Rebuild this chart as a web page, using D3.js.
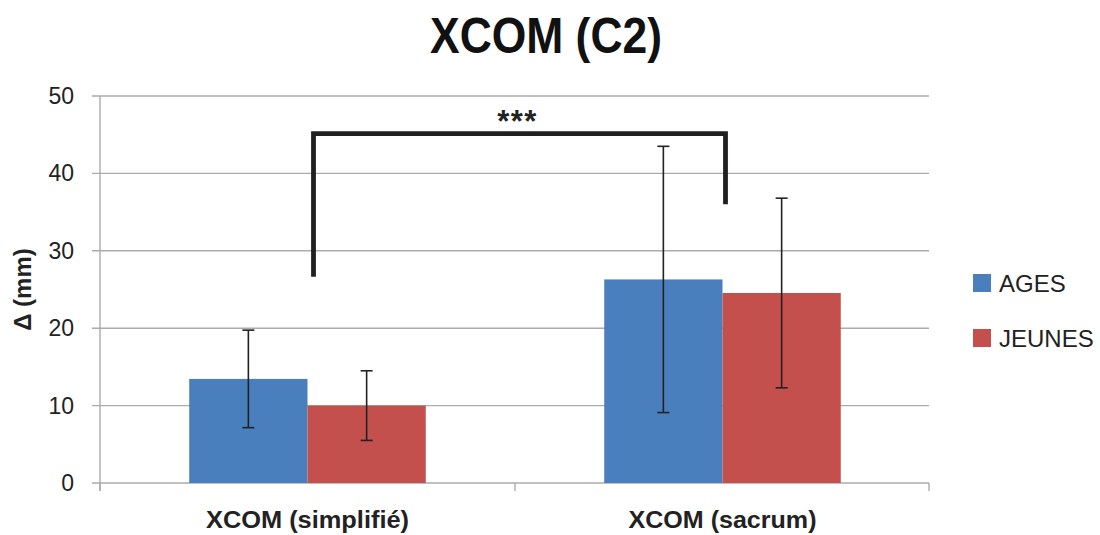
<!DOCTYPE html>
<html>
<head>
<meta charset="utf-8">
<script src="https://cdn.jsdelivr.net/npm/d3@7.9.0/dist/d3.min.js"></script>
<style>
  body { margin: 0; background: #fff; }
  svg { display: block; }
</style>
</head>
<body>
<div id="chart"></div>
<script>
// data
const categories = ["XCOM (simplifié)", "XCOM (sacrum)"];
const seriesNames = ["AGES", "JEUNES"];
const colors = ["#4A7FBD", "#C4504E"];
const means = [[13.45, 10.0], [26.3, 24.55]];   // [category][series]
const errors = [[6.3, 4.5], [17.2, 12.25]];
const yTicks = [0, 10, 20, 30, 40, 50];
// significance bracket: left foot, top, right foot
const bracket = { left: 26.65, top: 45.15, right: 36.0, label: "***" };

const W = 1100, H = 535;
const margin = { top: 96, right: 170, bottom: 52, left: 100 };

const svg = d3.select("#chart").append("svg")
  .attr("width", W).attr("height", H);

const x0 = d3.scaleBand()
  .domain(categories)
  .range([margin.left, W - margin.right])
  .paddingInner(0.43)
  .paddingOuter(0.215);

const x1 = d3.scaleBand()
  .domain(seriesNames)
  .range([0, x0.bandwidth()]);

const y = d3.scaleLinear()
  .domain([0, 50])
  .range([H - margin.bottom, margin.top]);

const font = "'Liberation Sans', Arial, sans-serif";
const grid = "#ababab";

// gridlines
svg.append("g")
  .selectAll("line")
  .data(yTicks)
  .join("line")
  .attr("x1", margin.left - 8)
  .attr("x2", W - margin.right - 1)
  .attr("y1", d => y(d)).attr("y2", d => y(d))
  .attr("stroke", grid).attr("stroke-width", 1.4);

// y axis line
svg.append("line")
  .attr("x1", margin.left).attr("x2", margin.left)
  .attr("y1", y(50)).attr("y2", y(0) + 8)
  .attr("stroke", grid).attr("stroke-width", 1.4);

// x ticks (category boundaries)
const xEdges = [margin.left, (margin.left + W - margin.right) / 2, W - margin.right - 1];
svg.append("g")
  .selectAll("line")
  .data(xEdges)
  .join("line")
  .attr("x1", d => d).attr("x2", d => d)
  .attr("y1", y(0)).attr("y2", y(0) + 8)
  .attr("stroke", grid).attr("stroke-width", 1.4);

// y tick labels
svg.append("g")
  .selectAll("text")
  .data(yTicks)
  .join("text")
  .attr("x", margin.left - 26)
  .attr("y", d => y(d) + 8)
  .attr("text-anchor", "end")
  .attr("font-family", font)
  .attr("font-size", 23)
  .attr("fill", "#222")
  .text(d => d);

// bars
const groups = svg.append("g")
  .selectAll("g")
  .data(categories)
  .join("g")
  .attr("transform", d => `translate(${x0(d)},0)`);

const cells = (c, i) => seriesNames.map((s, j) => ({ s, j, v: means[i][j], e: errors[i][j] }));

groups.selectAll("rect")
  .data(cells)
  .join("rect")
  .attr("x", d => x1(d.s))
  .attr("y", d => y(d.v))
  .attr("width", x1.bandwidth())
  .attr("height", d => y(0) - y(d.v))
  .attr("fill", d => colors[d.j]);

// error bars
const eb = groups.selectAll("g.err")
  .data(cells)
  .join("g")
  .attr("class", "err")
  .attr("stroke", "#222")
  .attr("stroke-width", 1.6);

const cx = d => x1(d.s) + x1.bandwidth() / 2;
eb.append("line")
  .attr("x1", cx).attr("x2", cx)
  .attr("y1", d => y(d.v + d.e)).attr("y2", d => y(d.v - d.e));
eb.append("line")
  .attr("x1", d => cx(d) - 6).attr("x2", d => cx(d) + 6)
  .attr("y1", d => y(d.v + d.e)).attr("y2", d => y(d.v + d.e));
eb.append("line")
  .attr("x1", d => cx(d) - 6).attr("x2", d => cx(d) + 6)
  .attr("y1", d => y(d.v - d.e)).attr("y2", d => y(d.v - d.e));

// significance bracket
const bl = x0(categories[0]) + x0.bandwidth() / 2 + 6;
const br = x0(categories[1]) + x0.bandwidth() / 2 + 3;
svg.append("path")
  .attr("d", `M${bl},${y(bracket.left)}V${y(bracket.top)}H${br}V${y(bracket.right)}`)
  .attr("fill", "none")
  .attr("stroke", "#231f20")
  .attr("stroke-width", 4.8)
  .attr("stroke-linejoin", "miter");

svg.append("text")
  .attr("x", (bl + br) / 2 - 2)
  .attr("y", y(bracket.top) - 2)
  .attr("text-anchor", "middle")
  .attr("font-family", font)
  .attr("font-weight", "bold")
  .attr("font-size", 31)
  .attr("letter-spacing", 1.5)
  .attr("fill", "#222")
  .text(bracket.label);

// category labels
const labelWidths = [203, 188];
svg.append("g")
  .selectAll("text")
  .data(categories)
  .join("text")
  .attr("x", d => x0(d) + x0.bandwidth() / 2)
  .attr("y", y(0) + 45)
  .attr("text-anchor", "middle")
  .attr("font-family", font)
  .attr("font-weight", "bold")
  .attr("font-size", 23.5)
  .attr("textLength", (d, i) => labelWidths[i])
  .attr("lengthAdjust", "spacingAndGlyphs")
  .attr("fill", "#222")
  .text(d => d);

// title
svg.append("text")
  .attr("x", 546)
  .attr("y", 53)
  .attr("text-anchor", "middle")
  .attr("font-family", font)
  .attr("font-weight", "bold")
  .attr("font-size", 50)
  .attr("textLength", 232)
  .attr("lengthAdjust", "spacingAndGlyphs")
  .attr("fill", "#111")
  .text("XCOM (C2)");

// y axis title
svg.append("text")
  .attr("transform", `translate(31,${(y(0) + y(50)) / 2}) rotate(-90)`)
  .attr("text-anchor", "middle")
  .attr("font-family", font)
  .attr("font-weight", "bold")
  .attr("font-size", 24)
  .attr("fill", "#222")
  .text("Δ (mm)");

// legend
const legend = svg.append("g")
  .selectAll("g")
  .data(seriesNames)
  .join("g")
  .attr("transform", (d, i) => `translate(973,${274 + i * 55})`);

legend.append("rect")
  .attr("width", 18).attr("height", 18)
  .attr("fill", (d, i) => colors[i]);

legend.append("text")
  .attr("x", 26)
  .attr("y", 18)
  .attr("font-family", font)
  .attr("font-size", 24)
  .attr("fill", "#222")
  .text(d => d);
</script>
</body>
</html>
